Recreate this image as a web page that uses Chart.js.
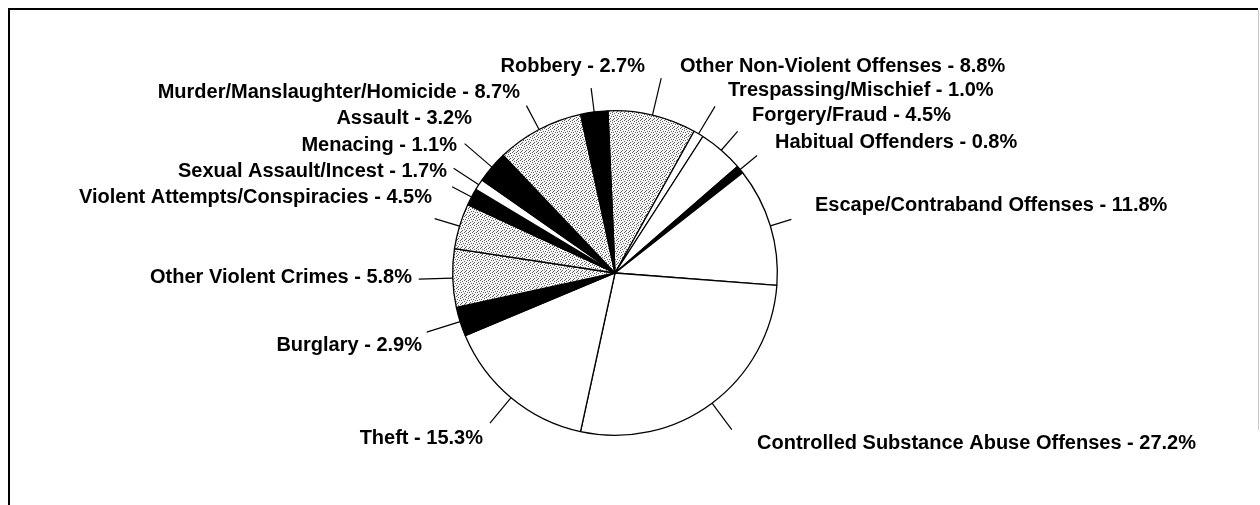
<!DOCTYPE html>
<html>
<head>
<meta charset="utf-8">
<script src="https://cdn.jsdelivr.net/npm/chart.js@4.4.1/dist/chart.umd.min.js"></script>
<style>
  html, body { margin: 0; padding: 0; background: #fff; }
  #wrap { position: relative; width: 1260px; height: 505px; }
</style>
</head>
<body>
<div id="wrap"><canvas id="offenseChart" width="1260" height="505"></canvas></div>
<script>
// Offense categories, clockwise from the top
const categories = [
  'Other Non-Violent Offenses',
  'Trespassing/Mischief',
  'Forgery/Fraud',
  'Habitual Offenders',
  'Escape/Contraband Offenses',
  'Controlled Substance Abuse Offenses',
  'Theft',
  'Burglary',
  'Other Violent Crimes',
  'Violent Attempts/Conspiracies',
  'Sexual Assault/Incest',
  'Menacing',
  'Assault',
  'Murder/Manslaughter/Homicide',
  'Robbery'
];
const shares = [8.8, 1.0, 4.5, 0.8, 11.8, 27.2, 15.3, 2.9, 5.8, 4.5, 1.7, 1.1, 3.2, 8.7, 2.7];

// fill style per slice
const fills = ['dots', 'white', 'white', 'black', 'white', 'white', 'white', 'black',
               'dots', 'dots', 'black', 'white', 'black', 'dots', 'black'];

// label layout: [x, y, align], leader length outside the pie
const labelPos = [
  [680, 66, 'left'], [728, 90, 'left'], [752, 115, 'left'], [775, 142, 'left'],
  [815, 205, 'left'], [757, 443, 'left'], [483, 438, 'right'], [422, 345, 'right'],
  [412, 277, 'right'], [432, 197, 'right'], [447, 171, 'right'], [457, 145, 'right'],
  [472, 118, 'right'], [520, 92, 'right'], [645, 66, 'right']
];
const leaderLen = [38, 32, 25, 22, 22, 33, 33, 35, 34, 26, 22, 30, 36, 27, 24];

function makeStipple() {
  const rows = [
    '10001000',
    '00100010',
    '00001000',
    '01000001',
    '00010100',
    '10000000',
    '00100010',
    '01000100'
  ];
  const c = document.createElement('canvas');
  c.width = 8; c.height = 8;
  const g = c.getContext('2d');
  g.fillStyle = '#f4f4f4';
  g.fillRect(0, 0, 8, 8);
  g.fillStyle = '#606060';
  rows.forEach((r, y) => {
    for (let x = 0; x < r.length; x++) if (r[x] === '1') g.fillRect(x, y, 1, 1);
  });
  return g.createPattern(c, 'repeat');
}

const ctx = document.getElementById('offenseChart').getContext('2d');
const stipple = makeStipple();
const colors = fills.map(f => f === 'black' ? '#000000' : f === 'dots' ? stipple : '#ffffff');

const framePlugin = {
  id: 'frame',
  beforeDraw(chart) {
    const c = chart.ctx;
    c.save();
    c.fillStyle = '#ffffff';
    c.fillRect(0, 0, chart.width, chart.height);
    c.strokeStyle = '#000';
    c.lineWidth = 2;
    c.beginPath();
    c.moveTo(9, 505);
    c.lineTo(9, 9);
    c.lineTo(1258, 9);
    c.stroke();
    c.strokeStyle = '#c8c8c8';
    c.lineWidth = 1;
    c.beginPath();
    c.moveTo(1258.5, 10);
    c.lineTo(1258.5, 430);
    c.stroke();
    c.restore();
  }
};

const labelPlugin = {
  id: 'pieLabels',
  afterDatasetsDraw(chart) {
    const c = chart.ctx;
    const arcs = chart.getDatasetMeta(0).data;
    c.save();
    c.strokeStyle = '#000';
    c.lineWidth = 1.2;
    c.fillStyle = '#000';
    c.font = 'bold 20px "Liberation Sans", Arial, sans-serif';
    c.textBaseline = 'middle';
    arcs.forEach((arc, i) => {
      const p = arc.getProps(['x', 'y', 'startAngle', 'endAngle', 'outerRadius'], true);
      const mid = (p.startAngle + p.endAngle) / 2;
      const r0 = p.outerRadius;
      const r1 = r0 + leaderLen[i];
      c.beginPath();
      c.moveTo(p.x + Math.cos(mid) * r0, p.y + Math.sin(mid) * r0);
      c.lineTo(p.x + Math.cos(mid) * r1, p.y + Math.sin(mid) * r1);
      c.stroke();
      const [lx, ly, align] = labelPos[i];
      c.textAlign = align;
      c.fillText(categories[i] + ' - ' + shares[i].toFixed(1) + '%', lx, ly);
    });
    c.restore();
  }
};

new Chart(ctx, {
  type: 'pie',
  data: {
    labels: categories,
    datasets: [{
      data: shares,
      backgroundColor: colors,
      borderColor: '#000000',
      borderWidth: 1.3,
      hoverOffset: 0
    }]
  },
  options: {
    responsive: false,
    animation: false,
    rotation: -2.5,
    layout: { padding: { left: 452, right: 482, top: 110, bottom: 69 } },
    plugins: {
      legend: { display: false },
      tooltip: { enabled: false }
    },
    events: []
  },
  plugins: [framePlugin, labelPlugin]
});
</script>
</body>
</html>
